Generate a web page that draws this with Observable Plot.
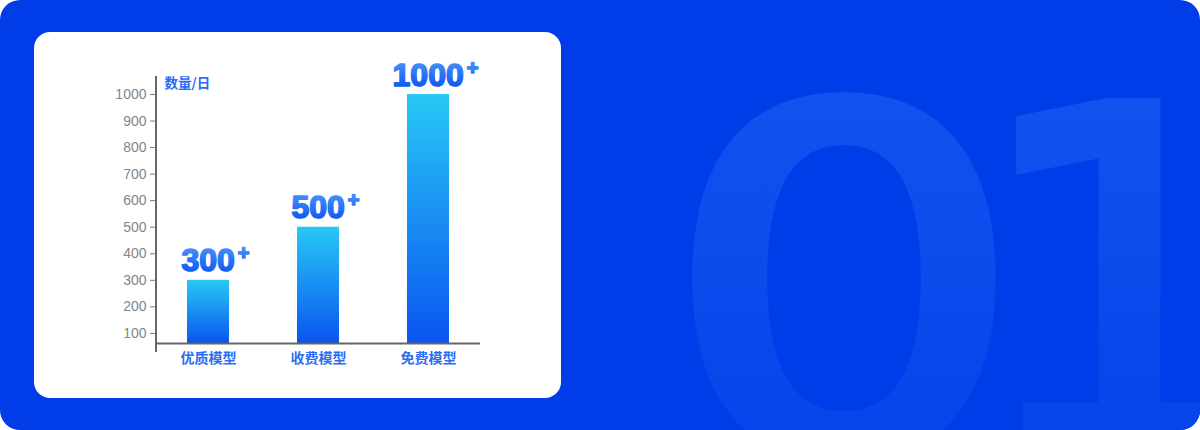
<!DOCTYPE html>
<html>
<head>
<meta charset="utf-8">
<script src="https://cdn.jsdelivr.net/npm/d3@7"></script>
<script src="https://cdn.jsdelivr.net/npm/@observablehq/plot@0.6"></script>
<style>
  html, body { margin: 0; padding: 0; background: #ffffff; }
  #stage { position: relative; width: 1200px; height: 430px; overflow: hidden; }
  #bg { position: absolute; left: 0; top: 0; }
  #card { position: absolute; left: 34px; top: 32px; width: 527px; height: 366px; background: #ffffff; border-radius: 16px; }
  #chart { position: absolute; left: 0; top: 0; }
  #defs { position: absolute; width: 0; height: 0; }
</style>
</head>
<body>
<svg id="defs" width="0" height="0" aria-hidden="true">
  <defs>
    <linearGradient id="barGrad" x1="0" y1="0" x2="0" y2="1">
      <stop offset="0" stop-color="#28c8f5"/>
      <stop offset="1" stop-color="#0a55f0"/>
    </linearGradient>
    <linearGradient id="numGrad" x1="0" y1="0" x2="0" y2="1">
      <stop offset="0" stop-color="#4f9bfc"/>
      <stop offset="1" stop-color="#044cef"/>
    </linearGradient>
  </defs>
</svg>
<div id="stage">
  <svg id="bg" width="1200" height="430">
    <defs>
      <linearGradient id="wmGrad" gradientUnits="userSpaceOnUse" x1="0" y1="89" x2="0" y2="430">
        <stop offset="0" stop-color="#1352ef"/>
        <stop offset="1" stop-color="#0744ea"/>
      </linearGradient>
      <clipPath id="bgClip"><rect width="1200" height="430" rx="20"/></clipPath>
    </defs>
    <rect width="1200" height="430" rx="20" fill="#003ce8"/>
    <g id="wm" clip-path="url(#bgClip)" fill="url(#wmGrad)" stroke="url(#wmGrad)" stroke-width="16"
       font-family="'DejaVu Sans'" font-size="470"></g>
  </svg>
  <div id="card"><div id="chart"></div></div>
</div>
<script>
// ---- data ----
const CATEGORIES = ["优质模型", "收费模型", "免费模型"];
const VALUES = [300, 500, 1000];
const Y_TICKS = [100, 200, 300, 400, 500, 600, 700, 800, 900, 1000];
const Y_DOMAIN = [62, 1000];
const Y_LABEL = "数量/日";
const VALUE_SUFFIX = "+";
const WATERMARK = ["0", "1"];

// ---- watermark ----
const wm = d3.select("#wm");
wm.append("text").attr("x", 844).attr("y", 449).attr("text-anchor", "middle")
  .attr("transform", "translate(844,0) scale(1.2,1) translate(-844,0)").text(WATERMARK[0]);
wm.append("text").attr("x", 1122).attr("y", 449).attr("text-anchor", "middle").text(WATERMARK[1]);

// ---- chart ----
const data = CATEGORIES.map((c, i) => ({cat: c, value: VALUES[i]}));
const CJK = "'Noto Sans CJK SC', 'Noto Sans', sans-serif";

const yAxisLine = (index, scales, values, dims) => {
  const x = dims.marginLeft;
  return d3.create("svg:line")
    .attr("x1", x).attr("x2", x)
    .attr("y1", scales.y(Y_DOMAIN[1]) - 18)
    .attr("y2", scales.y(Y_DOMAIN[0]) + 9)
    .attr("stroke", "#666").attr("stroke-width", 2)
    .node();
};

const chart = Plot.plot({
  width: 527,
  height: 366,
  marginLeft: 122,
  marginRight: 81,
  marginTop: 62,
  marginBottom: 55,
  style: {background: "transparent", overflow: "visible"},
  x: {domain: CATEGORIES, paddingInner: 0.62, paddingOuter: 0.276},
  y: {domain: Y_DOMAIN},
  marks: [
    Plot.barY(data, {x: "cat", y1: Y_DOMAIN[0], y2: "value", fill: "url(#barGrad)"}),
    Plot.axisY(Y_TICKS, {
      tickSize: 6, tickPadding: 4, stroke: "#7a7a7a", fill: "#858585",
      fontSize: 14, fontFamily: "'Liberation Sans', Arial, sans-serif",
      tickFormat: d => String(d), label: null
    }),
    Plot.axisX({
      tickSize: 0, tickPadding: 10, fill: "#2b6cf2", fontSize: 14, fontWeight: "bold",
      fontFamily: CJK, label: null
    }),
    Plot.ruleY([Y_DOMAIN[0]], {stroke: "#666", strokeWidth: 2}),
    yAxisLine,
    Plot.text([Y_LABEL], {
      frameAnchor: "top-left", dx: 8, dy: -11, textAnchor: "start", lineAnchor: "middle",
      fill: "#2b6cf2", fontSize: 13.5, fontWeight: "bold", fontFamily: CJK
    }),
    Plot.text(data, {
      x: "cat", y: "value", text: d => String(d.value), lineAnchor: "bottom",
      dy: -9, dx: 7, fill: "url(#numGrad)", stroke: "url(#numGrad)", strokeWidth: 1.6,
      fontSize: 32, fontWeight: "bold", fontFamily: "'Liberation Sans', Arial, sans-serif"
    })
  ]
});

const valueStrings = VALUES.map(String);
d3.select(chart).selectAll('g[aria-label="text"] text')
  .filter(function () { return valueStrings.includes(this.textContent); })
  .append("tspan").attr("dx", 3).attr("dy", -11).attr("font-size", 20).text(VALUE_SUFFIX);

document.getElementById("chart").appendChild(chart);
</script>
</body>
</html>
